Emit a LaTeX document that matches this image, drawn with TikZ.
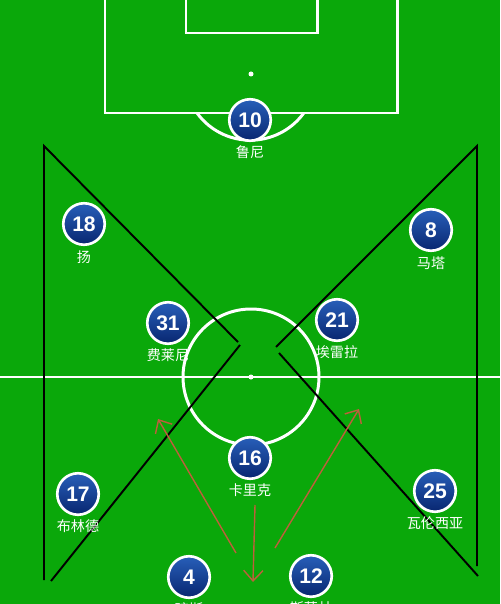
\documentclass[tikz,border=0pt]{standalone}
\usepackage{fontspec}
\setsansfont{Liberation Sans}
\newfontfamily\cjk{Noto Sans CJK SC}
\usetikzlibrary{arrows.meta}

\definecolor{pitch}{RGB}{10,168,10}
\definecolor{shirttop}{RGB}{40,95,185}
\definecolor{shirtbot}{RGB}{8,38,112}
\definecolor{run}{RGB}{190,95,60}

\begin{document}
\begin{tikzpicture}[x=0.02cm, y=-0.02cm,
pitchline/.style={draw=white, line width=1.7pt},
zone/.style={draw=black, line width=1.1pt},
runarrow/.style={draw=run, line width=0.8pt, -{Straight Barb[length=6pt,width=11pt]}},
player/.style={circle, draw=white, line width=1.5pt, minimum size=0.83cm, inner sep=0pt,
  top color=shirttop, bottom color=shirtbot, text=white,
  font=\sffamily\bfseries\fontsize{12}{12}\selectfont},
plabel/.style={text=white, inner sep=0pt, font=\cjk\fontsize{8}{8}\selectfont},
]
\useasboundingbox (0,0) rectangle (500,604);
\clip (0,0) rectangle (500,604);
\fill[pitch] (0,0) rectangle (500,604);

%pitch markings
\draw[pitchline] (105,-5)--(105,113)--(397,113)--(397,-5);
\draw[pitchline] (186,-5)--(186,33)--(317,33)--(317,-5);
\fill[white] (251,74) circle[radius=2.5];
\draw[pitchline] (197,113) arc[start angle=144, end angle=36, radius=66];
\draw[pitchline] (-5,377)--(505,377);
\draw[pitchline] (251,377) circle[radius=68];
\fill[white] (251,377) circle[radius=2.5];

%zones
\coordinate (lt) at (44,146);
\coordinate (lb) at (44,580);
\coordinate (la) at (238,342);
\coordinate (la2) at (240,345);
\coordinate (lb2) at (51,581);
\coordinate (rt) at (477,146);
\coordinate (rb) at (477,566);
\coordinate (ra) at (276,347);
\coordinate (ra2) at (279,353);
\coordinate (rb2) at (478,576);
\draw[zone] (lb)--(lt)--(la);
\draw[zone] (la2)--(lb2);
\draw[zone] (rb)--(rt)--(ra);
\draw[zone] (ra2)--(rb2);

%runs
\coordinate (r1s) at (236,553);
\coordinate (r1e) at (158,419);
\coordinate (r2s) at (255,505);
\coordinate (r2e) at (253,582);
\coordinate (r3s) at (275,548);
\coordinate (r3e) at (359,409);
\draw[runarrow] (r1s)--(r1e);
\draw[runarrow] (r2s)--(r2e);
\draw[runarrow] (r3s)--(r3e);

%players
\node (p10) [player] at (250,120) {10};
\node (n10) [plabel] at (250,152) {鲁尼};
\node (p18) [player] at (84,224) {18};
\node (n18) [plabel] at (84,257) {扬};
\node (p8) [player] at (431,230) {8};
\node (n8) [plabel] at (431,263) {马塔};
\node (p31) [player] at (168,323) {31};
\node (n31) [plabel] at (168,355) {费莱尼};
\node (p21) [player] at (337,320) {21};
\node (n21) [plabel] at (337,352) {埃雷拉};
\node (p16) [player] at (250,458) {16};
\node (n16) [plabel] at (250,490) {卡里克};
\node (p17) [player] at (78,494) {17};
\node (n17) [plabel] at (78,526) {布林德};
\node (p25) [player] at (435,491) {25};
\node (n25) [plabel] at (435,523) {瓦伦西亚};
\node (p4) [player] at (189,577) {4};
\node (n4) [plabel] at (189,609) {琼斯};
\node (p12) [player] at (311,576) {12};
\node (n12) [plabel] at (311,608) {斯莫林};
\end{tikzpicture}
\end{document}
